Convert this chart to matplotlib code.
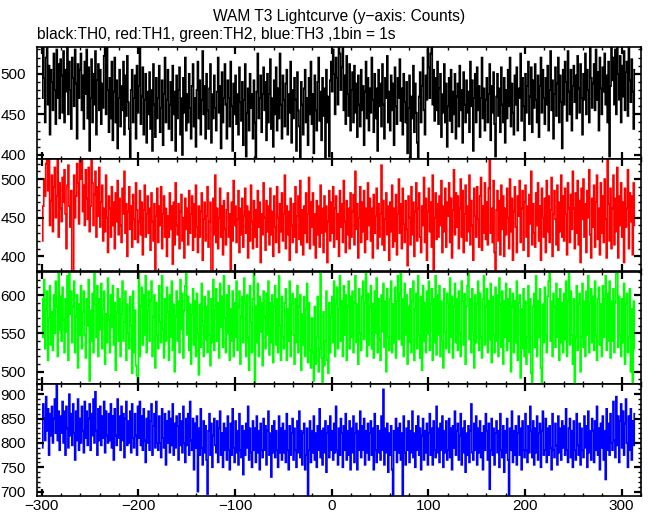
import numpy as np
import matplotlib
matplotlib.use("Agg")
import matplotlib.pyplot as plt
from matplotlib.ticker import MultipleLocator

t_start = -300  # first bin, seconds (1 bin = 1 s)

th0 = [
    470, 545, 495, 440, 520, 540, 462, 510, 425, 505,
    490, 455, 525, 480, 438, 530, 470, 512, 445, 518,
    498, 452, 528, 440, 505, 478, 535, 450, 515, 480,
    432, 520, 495, 460, 530, 488, 420, 512, 470, 505,
    525, 455, 498, 432, 515, 475, 530, 445, 508, 405,
    470, 518, 440, 500, 462, 528, 425, 492, 512, 455,
    505, 438, 488, 458, 522, 540, 450, 538, 480, 428,
    495, 445, 515, 418, 478, 520, 440, 492, 408, 470,
    505, 435, 485, 455, 515, 425, 498, 448, 522, 465,
    432, 396, 480, 505, 440, 470, 498, 420, 510, 452,
    485, 540, 438, 472, 508, 425, 468, 500, 415, 478,
    450, 502, 432, 480, 405, 512, 462, 422, 495, 445,
    470, 510, 428, 458, 492, 412, 475, 520, 440, 468,
    505, 432, 462, 490, 418, 510, 450, 478, 405, 498,
    445, 480, 508, 425, 470, 400, 495, 452, 520, 430,
    475, 440, 500, 458, 420, 485, 512, 435, 470, 410,
    480, 515, 445, 492, 425, 468, 528, 450, 485, 420,
    500, 455, 432, 482, 512, 415, 475, 445, 498, 458,
    430, 478, 520, 452, 485, 408, 502, 440, 470, 512,
    462, 420, 492, 470, 435, 515, 460, 405, 488, 450,
    498, 438, 475, 425, 508, 465, 442, 490, 412, 468,
    512, 398, 452, 482, 430, 500, 458, 475, 420, 492,
    440, 396, 478, 525, 445, 470, 498, 428, 475, 508,
    455, 490, 418, 500, 440, 475, 518, 432, 470, 410,
    492, 450, 508, 430, 482, 445, 525, 462, 420, 498,
    468, 435, 488, 505, 425, 475, 452, 515, 415, 480,
    445, 495, 468, 405, 502, 455, 435, 395, 490, 462,
    425, 482, 505, 440, 470, 412, 495, 450, 515, 438,
    475, 402, 498, 455, 430, 490, 520, 442, 478, 418,
    495, 448, 482, 394, 505, 440, 472, 398, 492, 515,
    478, 530, 500, 450, 520, 495, 462, 540, 525, 480,
    508, 538, 455, 498, 438, 522, 475, 448, 512, 430,
    480, 502, 440, 510, 452, 488, 422, 498, 462, 435,
    505, 455, 485, 412, 478, 515, 445, 495, 430, 482,
    452, 520, 468, 428, 500, 445, 482, 405, 505, 460,
    488, 435, 512, 462, 420, 495, 470, 522, 440, 478,
    430, 498, 455, 488, 412, 508, 460, 438, 495, 470,
    518, 442, 482, 425, 500, 465, 440, 490, 402, 458,
    498, 396, 472, 445, 510, 428, 488, 452, 415, 395,
    472, 502, 440, 485, 520, 455, 425, 498, 468, 530,
    508, 470, 525, 538, 462, 505, 442, 495, 455, 515,
    438, 482, 500, 422, 475, 452, 512, 440, 488, 410,
    460, 495, 442, 505, 428, 478, 450, 500, 420, 472,
    488, 435, 510, 455, 480, 415, 502, 462, 440, 492,
    452, 478, 428, 515, 460, 492, 405, 470, 500, 440,
    508, 455, 485, 422, 470, 520, 445, 482, 430, 468,
    495, 440, 475, 512, 418, 485, 452, 502, 438, 398,
    472, 500, 448, 482, 428, 508, 462, 440, 495, 415,
    480, 445, 505, 460, 520, 435, 488, 452, 425, 498,
    462, 508, 430, 482, 470, 525, 442, 495, 460, 418,
    500, 452, 485, 515, 438, 472, 508, 428, 492, 458,
    512, 468, 440, 498, 422, 485, 520, 452, 505, 470,
    438, 495, 462, 510, 430, 480, 528, 455, 492, 420,
    475, 508, 448, 488, 520, 440, 498, 465, 408, 505,
    462, 515, 490, 442, 528, 478, 450, 505, 430, 485,
    510, 465, 498, 445, 522, 482, 452, 512, 470, 425,
    500, 468, 525, 450, 505, 480, 440, 532, 495, 458,
    488, 512, 455, 530, 468, 502, 430, 520, 482, 450,
    508, 478, 525, 462, 498, 440, 515, 398, 485, 540,
    492, 520, 462, 530, 450, 538, 500, 468, 522, 440,
    510, 472, 528, 455, 502, 515, 448, 540, 492, 465,
    518, 478, 432, 505,
]

th1 = [
    420, 465, 500, 478, 520, 530, 485, 530, 440, 472,
    505, 432, 490, 515, 450, 478, 525, 425, 495, 462,
    445, 502, 470, 512, 455, 410, 492, 518, 465, 438,
    485, 378, 376, 505, 450, 478, 520, 495, 442, 528,
    500, 530, 458, 492, 440, 512, 475, 448, 515, 432,
    465, 528, 495, 440, 480, 510, 425, 490, 452, 515,
    438, 470, 492, 420, 462, 432, 505, 450, 405, 478,
    462, 425, 490, 440, 470, 410, 482, 445, 498, 428,
    475, 440, 418, 488, 455, 510, 430, 468, 400, 458,
    490, 435, 465, 412, 480, 448, 422, 495, 460, 418,
    445, 485, 428, 470, 402, 460, 492, 425, 455, 478,
    430, 462, 408, 482, 445, 420, 468, 378, 452, 488,
    418, 465, 440, 490, 410, 455, 478, 425, 462, 400,
    452, 425, 482, 435, 465, 390, 470, 415, 495, 440,
    428, 468, 410, 458, 480, 420, 450, 398, 475, 435,
    462, 415, 485, 430, 455, 478, 408, 468, 425, 492,
    438, 405, 465, 425, 458, 482, 395, 448, 470, 420,
    452, 490, 412, 445, 470, 378, 378, 475, 428, 505,
    418, 462, 410, 450, 488, 425, 465, 402, 472, 435,
    415, 460, 482, 425, 455, 378, 470, 420, 498, 440,
    465, 418, 448, 485, 405, 462, 428, 475, 412, 452,
    488, 430, 465, 398, 458, 420, 492, 445, 410, 472,
    425, 460, 412, 485, 438, 470, 392, 455, 428, 495,
    450, 408, 472, 432, 465, 415, 488, 428, 458, 400,
    478, 438, 418, 490, 450, 405, 468, 432, 482, 420,
    455, 505, 410, 465, 428, 458, 395, 475, 440, 418,
    468, 425, 490, 405, 452, 478, 422, 498, 415, 460,
    402, 465, 430, 482, 418, 455, 502, 410, 470, 438,
    482, 415, 455, 398, 472, 428, 465, 412, 492, 430,
    462, 405, 478, 432, 465, 392, 445, 485, 420, 470,
    430, 490, 412, 462, 478, 422, 455, 400, 485, 438,
    468, 418, 498, 445, 405, 472, 428, 462, 410, 482,
    425, 458, 480, 415, 510, 435, 468, 398, 450, 490,
    418, 470, 432, 485, 405, 462, 422, 495, 440, 475,
    420, 462, 398, 480, 430, 452, 488, 410, 468, 425,
    455, 518, 415, 472, 408, 448, 482, 428, 465, 395,
    470, 432, 492, 412, 462, 420, 480, 402, 455, 500,
    430, 468, 410, 488, 442, 418, 472, 435, 388, 478,
    450, 415, 490, 428, 470, 400, 458, 495, 420, 462,
    482, 425, 405, 465, 440, 502, 418, 475, 395, 458,
    488, 432, 470, 412, 505, 378, 450, 482, 422, 468,
    425, 478, 440, 498, 405, 465, 432, 488, 412, 470,
    452, 495, 418, 475, 398, 460, 512, 428, 482, 438,
    478, 410, 462, 500, 425, 485, 405, 455, 492, 420,
    465, 432, 505, 415, 472, 440, 395, 488, 452, 425,
    490, 448, 412, 478, 502, 408, 465, 430, 495, 422,
    470, 415, 488, 528, 430, 462, 418, 498, 405, 378,
    460, 485, 420, 472, 402, 492, 435, 478, 400, 462,
    428, 488, 450, 410, 500, 432, 475, 395, 458, 490,
    438, 405, 478, 452, 498, 418, 462, 485, 408, 470,
    492, 425, 465, 400, 480, 442, 510, 415, 468, 430,
    412, 482, 440, 495, 420, 465, 395, 488, 450, 425,
    475, 405, 498, 432, 478, 418, 460, 502, 400, 455,
    485, 448, 415, 492, 408, 470, 432, 505, 425, 478,
    420, 488, 455, 402, 495, 462, 418, 480, 435, 510,
    462, 410, 482, 430, 498, 415, 472, 392, 488, 448,
    500, 425, 468, 405, 485, 450, 512, 428, 398, 475,
    438, 492, 412, 470, 505, 422, 462, 402, 495, 430,
    478, 418, 500, 448, 398, 528, 468, 420, 488, 410,
    462, 505, 415, 475, 432, 515, 398, 478, 440, 495,
    425, 470, 392, 488, 438, 462, 512, 410, 482, 445,
    478, 402, 495, 440,
]

th2 = [
    595, 545, 620, 530, 580, 605, 515, 570, 612, 535,
    578, 528, 600, 550, 618, 585, 520, 632, 555, 598,
    540, 610, 568, 525, 595, 552, 625, 515, 634, 575,
    605, 538, 585, 618, 525, 572, 600, 505, 588, 548,
    612, 530, 578, 605, 548, 518, 595, 560, 620, 488,
    580, 540, 602, 525, 632, 588, 545, 612, 520, 595,
    555, 615, 530, 582, 605, 510, 575, 538, 622, 568,
    525, 600, 558, 612, 535, 590, 502, 578, 608, 540,
    595, 520, 575, 618, 540, 565, 605, 515, 588, 550,
    530, 598, 560, 498, 605, 525, 580, 508, 495, 486,
    632, 520, 585, 610, 535, 600, 548, 625, 525, 580,
    605, 540, 592, 618, 520, 572, 600, 505, 590, 548,
    530, 612, 565, 538, 625, 555, 518, 595, 540, 610,
    578, 515, 600, 545, 618, 528, 588, 500, 572, 605,
    540, 592, 525, 620, 555, 602, 518, 580, 612, 632,
    548, 598, 528, 588, 510, 575, 608, 535, 592, 520,
    602, 550, 496, 588, 532, 615, 560, 520, 598, 542,
    585, 525, 605, 548, 508, 595, 538, 620, 528, 580,
    608, 540, 590, 518, 615, 558, 598, 532, 625, 570,
    525, 600, 550, 612, 515, 582, 540, 605, 520, 590,
    545, 618, 528, 585, 605, 510, 572, 598, 538, 622,
    590, 520, 600, 545, 502, 612, 565, 525, 595, 632,
    486, 585, 538, 615, 520, 598, 552, 590, 508, 605,
    572, 530, 602, 548, 618, 522, 590, 538, 600, 512,
    585, 612, 535, 595, 525, 625, 560, 515, 598, 545,
    530, 590, 608, 515, 582, 540, 618, 520, 588, 602,
    548, 510, 595, 538, 612, 525, 585, 600, 502, 575,
    535, 598, 520, 582, 615, 512, 590, 528, 505, 570,
    525, 488, 585, 510, 545, 598, 500, 530, 632, 518,
    486, 578, 508, 540, 605, 515, 498, 590, 525, 572,
    598, 538, 618, 520, 588, 610, 530, 582, 625, 540,
    592, 520, 612, 548, 600, 515, 585, 618, 530, 598,
    545, 605, 525, 590, 625, 538, 588, 510, 608, 550,
    528, 598, 618, 542, 590, 632, 520, 602, 535, 585,
    612, 530, 588, 518, 605, 550, 622, 525, 595, 542,
    515, 600, 552, 615, 532, 592, 500, 608, 545, 528,
    595, 618, 525, 588, 538, 610, 518, 592, 625, 542,
    602, 632, 535, 595, 520, 615, 548, 600, 510, 585,
    538, 608, 525, 592, 618, 515, 582, 602, 530, 625,
    548, 518, 598, 502, 612, 540, 590, 525, 605, 550,
    618, 528, 588, 608, 515, 595, 538, 625, 522, 600,
    548, 612, 520, 592, 540, 505, 608, 552, 530, 602,
    590, 525, 622, 545, 598, 518, 585, 615, 538, 595,
    528, 605, 550, 520, 618, 592, 535, 602, 510, 585,
    612, 632, 542, 595, 525, 608, 552, 505, 600, 538,
    588, 618, 528, 602, 545, 518, 595, 625, 535, 585,
    608, 525, 592, 542, 615, 512, 598, 548, 525, 610,
    540, 600, 520, 622, 588, 532, 605, 510, 592, 545,
    615, 528, 595, 540, 608, 500, 585, 602, 525, 592,
    538, 618, 515, 590, 600, 492, 582, 530, 608, 520,
    592, 510, 545, 612, 525, 595, 498, 486, 585, 602,
    532, 625, 520, 592, 545, 608, 505, 486, 588, 538,
    610, 548, 525, 598, 618, 632, 540, 592, 520, 602,
    585, 532, 615, 545, 595, 515, 608, 538, 590, 525,
    602, 542, 618, 520, 592, 632, 535, 605, 548, 510,
    595, 486, 545, 612, 528, 588, 602, 500, 545, 615,
    532, 592, 520, 605, 548, 625, 525, 590, 608, 538,
    598, 528, 618, 548, 515, 595, 610, 535, 588, 520,
    612, 545, 595, 625, 528, 602, 540, 618, 518, 592,
    540, 608, 525, 590, 628, 632, 532, 598, 548, 520,
    595, 538, 615, 510, 588, 602, 525, 545, 608, 500,
    582, 486, 592, 530,
]

th3 = [
    790, 880, 850, 805, 895, 825, 870, 775, 860, 815,
    875, 800, 850, 890, 820, 925, 805, 865, 785, 855,
    820, 885, 800, 865, 775, 875, 830, 790, 900, 815,
    860, 795, 880, 820, 765, 865, 805, 890, 785, 850,
    800, 875, 825, 780, 885, 810, 865, 795, 850, 880,
    785, 860, 815, 890, 800, 905, 825, 775, 870, 805,
    875, 795, 855, 810, 885, 780, 865, 815, 800, 860,
    805, 880, 790, 855, 765, 870, 815, 795, 890, 810,
    855, 785, 875, 805, 860, 770, 850, 885, 795, 845,
    800, 865, 780, 880, 810, 790, 860, 815, 775, 875,
    810, 885, 795, 855, 785, 870, 805, 760, 850, 800,
    865, 785, 845, 880, 775, 835, 860, 790, 885, 800,
    785, 855, 800, 770, 870, 810, 790, 860, 755, 845,
    800, 865, 780, 850, 795, 880, 775, 840, 790, 855,
    835, 765, 860, 795, 845, 780, 875, 800, 760, 850,
    795, 860, 775, 885, 805, 785, 850, 745, 840, 790,
    855, 700, 830, 775, 870, 790, 755, 845, 780, 835,
    765, 695, 825, 860, 775, 840, 750, 815, 850, 795,
    780, 845, 760, 830, 865, 775, 820, 750, 840, 785,
    830, 765, 855, 785, 745, 840, 775, 870, 790, 760,
    845, 780, 825, 755, 860, 785, 770, 835, 735, 825,
    775, 840, 790, 875, 765, 830, 780, 750, 845, 785,
    830, 760, 855, 780, 825, 745, 840, 785, 770, 850,
    785, 835, 755, 825, 865, 775, 820, 730, 835, 780,
    845, 770, 825, 785, 750, 855, 780, 830, 765, 840,
    780, 825, 760, 860, 785, 745, 835, 775, 820, 850,
    765, 830, 785, 750, 845, 780, 865, 770, 825, 755,
    820, 840, 745, 775, 830, 690, 785, 845, 760, 825,
    780, 855, 765, 820, 750, 835, 785, 870, 770, 825,
    755, 830, 780, 845, 740, 820, 835, 770, 855, 785,
    825, 765, 840, 780, 875, 785, 755, 830, 775, 850,
    820, 750, 835, 785, 860, 765, 825, 775, 845, 745,
    830, 780, 855, 760, 820, 840, 745, 825, 785, 865,
    770, 835, 785, 850, 755, 825, 780, 840, 765, 820,
    845, 775, 830, 745, 860, 785, 760, 835, 780, 825,
    765, 855, 785, 910, 755, 830, 780, 840, 740, 820,
    775, 835, 745, 690, 825, 785, 850, 760, 830, 780,
    840, 765, 820, 690, 855, 780, 755, 830, 785, 845,
    760, 825, 780, 865, 770, 820, 750, 835, 785, 855,
    775, 830, 745, 815, 850, 765, 825, 780, 840, 755,
    820, 860, 775, 830, 755, 845, 785, 770, 875, 780,
    830, 760, 840, 785, 855, 750, 825, 780, 845, 765,
    785, 850, 770, 830, 745, 835, 790, 865, 775, 825,
    840, 765, 815, 860, 755, 830, 780, 845, 740, 820,
    775, 835, 760, 825, 880, 780, 765, 840, 785, 855,
    755, 830, 780, 845, 770, 820, 745, 835, 785, 860,
    825, 765, 840, 705, 785, 850, 775, 830, 755, 820,
    845, 780, 825, 750, 860, 785, 770, 835, 740, 825,
    780, 850, 765, 690, 830, 785, 865, 760, 825, 775,
    835, 755, 820, 855, 775, 830, 745, 845, 785, 770,
    860, 785, 760, 835, 780, 875, 825, 770, 845, 755,
    830, 780, 855, 765, 820, 840, 750, 825, 865, 775,
    785, 850, 760, 830, 775, 835, 790, 745, 860, 785,
    770, 840, 795, 755, 855, 780, 830, 765, 845, 790,
    835, 775, 870, 785, 760, 830, 850, 770, 825, 750,
    845, 785, 765, 860, 795, 775, 840, 755, 830, 785,
    770, 855, 790, 835, 750, 865, 780, 825, 765, 850,
    825, 760, 845, 785, 875, 775, 830, 745, 840, 790,
    855, 765, 825, 725, 870, 785, 840, 775, 860, 800,
    785, 885, 805, 770, 895, 795, 855, 760, 845, 880,
    790, 865, 775, 840, 890, 800, 750, 855, 785, 870,
    765, 845, 795, 860,
]

series = [th0, th1, th2, th3]
colors = ["black", "#ff0000", "#00ff00", "#0000ff"]
ylims = [(395, 533), (381, 526), (484, 630), (691, 921)]
title = "WAM T3 Lightcurve (y\u2212axis: Counts)"
subtitle = "black:TH0, red:TH1, green:TH2, blue:TH3 ,1bin = 1s"

plt.rcParams['font.family'] = ['Liberation Sans', 'DejaVu Sans']
plt.rcParams['axes.unicode_minus'] = True

W, H = 652, 515
fig = plt.figure(figsize=(W / 100, H / 100), dpi=100)

left_px, right_px = 37, 641
tops = [47, 159, 272, 384]
ph = 112

for i, (vals, col, yl) in enumerate(zip(series, colors, ylims)):
    top = tops[i]
    ax = fig.add_axes([left_px / W, 1 - (top + ph) / H,
                       (right_px - left_px) / W, ph / H])
    edges = np.arange(t_start, t_start + len(vals) + 1)
    ax.stairs(vals, edges, color=col, lw=1.2, baseline=None)
    ax.set_xlim(-305, 320)
    ax.set_ylim(*yl)
    ax.xaxis.set_major_locator(MultipleLocator(100))
    ax.xaxis.set_minor_locator(MultipleLocator(20))
    ax.yaxis.set_major_locator(MultipleLocator(50))
    ax.yaxis.set_minor_locator(MultipleLocator(10))
    ax.tick_params(which='both', direction='in', top=True, right=True,
                   labelsize=11, colors='black')
    ax.tick_params(which='major', length=5, width=1.6, pad=8)
    ax.tick_params(which='minor', length=2.5, width=1.0)
    for s in ax.spines.values():
        s.set_linewidth(1.2)
    if i < 3:
        ax.tick_params(labelbottom=False)
    else:
        ax.tick_params(axis='x', pad=2.5)

fig.text(339 / W, 1 - 17 / H, title, ha='center', va='center', fontsize=11.2)
fig.text(37 / W, 1 - 35 / H, subtitle, ha='left', va='center', fontsize=11.2)

fig.savefig("out.png", dpi=100)
